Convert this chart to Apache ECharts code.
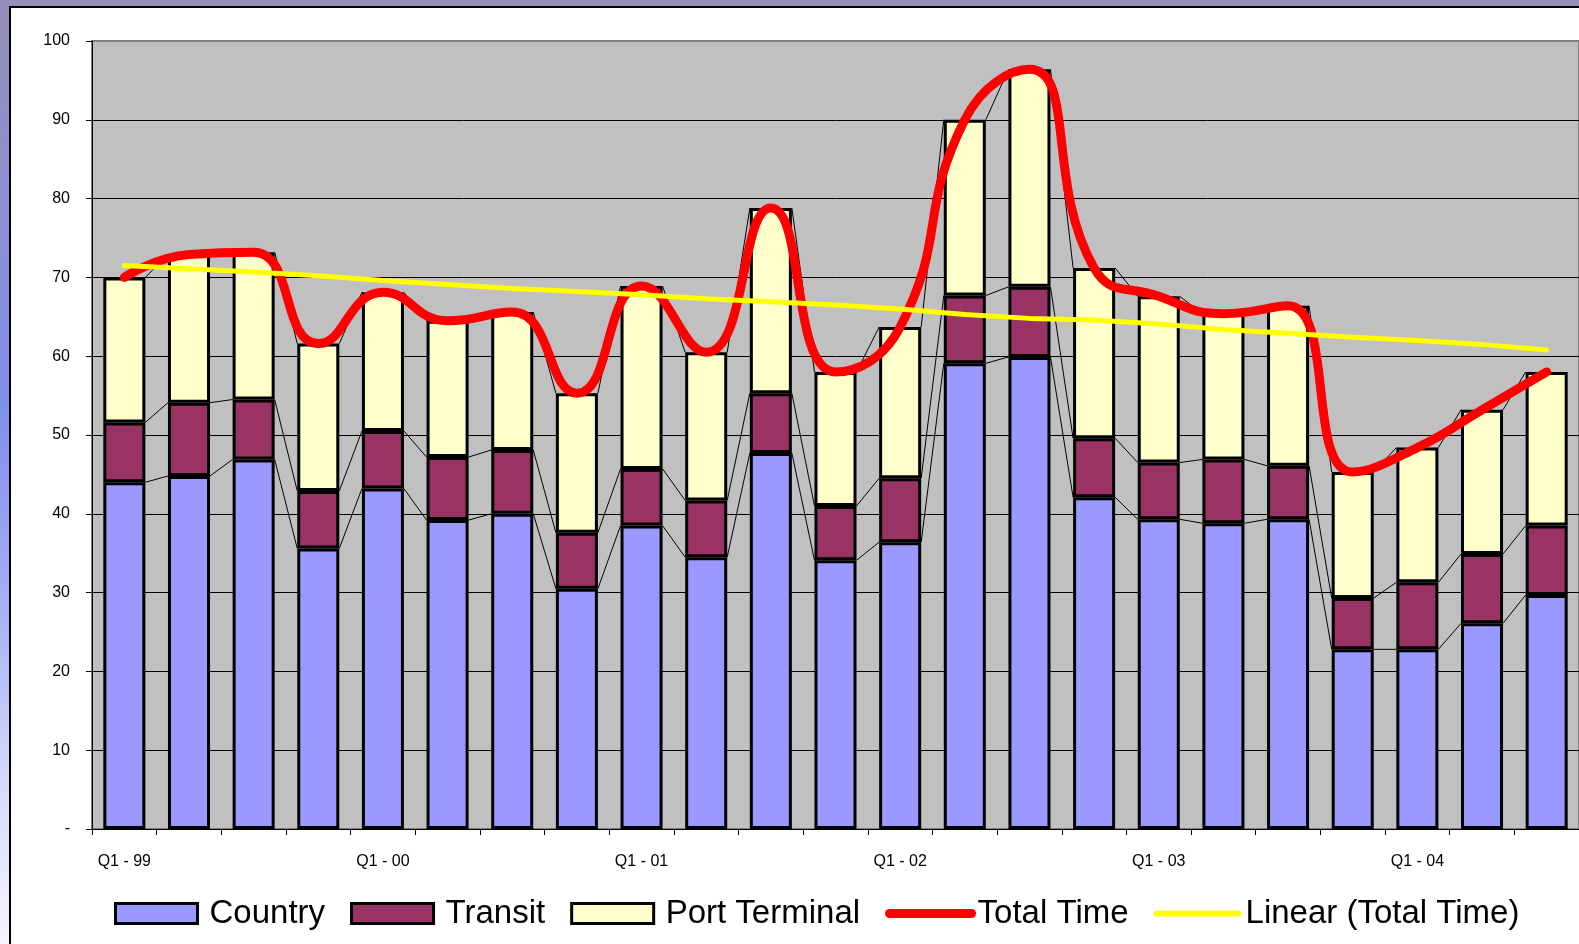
<!DOCTYPE html>
<html>
<head>
<meta charset="utf-8">
<title>Total Time</title>
<script src="https://cdn.jsdelivr.net/npm/echarts@6/dist/echarts.min.js"></script>
<style>
html, body {
  margin: 0;
  padding: 0;
  width: 1579px;
  height: 944px;
  overflow: hidden;
  background: linear-gradient(to bottom, #938fb9 0%, #8c8fd2 22%, #7f8eea 42%, #a0acf6 62%, #d2d8fb 82%, #f6f6ff 100%);
}
.panel {
  position: absolute;
  left: 9px;
  top: 6px;
  width: 1600px;
  height: 1000px;
  background: #ffffff;
  border: 2px solid #000000;
}
#chart {
  position: absolute;
  left: 0;
  top: 0;
  width: 1579px;
  height: 944px;
}
</style>
</head>
<body>
<div class="panel"></div>
<div id="chart"></div>
<script>
// quarters Q1-99 .. Q3-04
var categories = [
  'Q1 - 99', 'Q2 - 99', 'Q3 - 99', 'Q4 - 99',
  'Q1 - 00', 'Q2 - 00', 'Q3 - 00', 'Q4 - 00',
  'Q1 - 01', 'Q2 - 01', 'Q3 - 01', 'Q4 - 01',
  'Q1 - 02', 'Q2 - 02', 'Q3 - 02', 'Q4 - 02',
  'Q1 - 03', 'Q2 - 03', 'Q3 - 03', 'Q4 - 03',
  'Q1 - 04', 'Q2 - 04', 'Q3 - 04'
]
var country = [44.0, 44.8, 46.9, 35.6, 43.2, 39.2, 40.0, 30.5, 38.5, 34.5, 47.7, 34.1,
  36.4, 59.1, 59.9, 42.1, 39.3, 38.8, 39.3, 22.8, 22.8, 26.1, 29.7]
var transit = [7.6, 9.3, 7.6, 7.3, 7.3, 8.0, 8.1, 7.1, 7.2, 7.2, 7.6, 6.9,
  8.1, 8.6, 8.9, 7.5, 7.2, 8.1, 6.8, 6.5, 8.5, 8.8, 8.8]
var portTerminal = [18.4, 18.8, 18.7, 18.7, 17.6, 17.3, 17.5, 17.7, 23.2, 18.8, 23.5, 17.0,
  19.2, 22.3, 27.6, 21.6, 21.1, 18.5, 20.3, 16.0, 17.1, 18.3, 19.5]
var totalTime = [70.0, 72.9, 73.2, 61.6, 68.1, 64.5, 65.6, 55.3, 68.9, 60.5, 78.8, 58.0,
  63.7, 90.0, 96.4, 71.2, 67.6, 65.4, 66.4, 45.3, 48.4, 53.2, 58.0]
var linearTotal = [71.5, 71.1, 70.7, 70.2, 69.6, 69.1, 68.6, 68.2, 67.8, 67.3, 66.9, 66.5,
  66.0, 65.3, 64.8, 64.6, 64.1, 63.4, 62.9, 62.4, 62.0, 61.5, 60.8]
var yTicks = ['-', '10', '20', '30', '40', '50', '60', '70', '80', '90', '100']

var barBorder = { borderColor: '#000000', borderWidth: 3 }
var barWidthPct = 0.65

var myChart = echarts.init(document.getElementById('chart'))

var option = {
  animation: false,
  backgroundColor: 'transparent',
  textStyle: { fontFamily: 'Liberation Sans, Arial, sans-serif' },
  grid: {
    left: 92,
    top: 41,
    width: 1490,
    height: 788,
    show: true,
    backgroundColor: '#c0c0c0',
    borderColor: '#808080',
    borderWidth: 2
  },
  legend: {
    left: 109,
    top: 892,
    itemWidth: 82,
    itemHeight: 20,
    itemGap: 25,
    lineStyle: { width: 'inherit', cap: 'round' },
    data: [
      { name: 'Country', icon: 'rect', itemStyle: { borderWidth: 3, borderColor: '#000000' } },
      { name: 'Transit', icon: 'rect', itemStyle: { borderWidth: 3, borderColor: '#000000' } },
      { name: 'Port Terminal', icon: 'rect', itemStyle: { borderWidth: 3, borderColor: '#000000' } },
      {
        name: 'Total Time',
        itemStyle: { opacity: 0 },
        lineStyle: { width: 9, cap: 'round' },
        textStyle: { padding: [0, 0, 0, 1] }
      },
      {
        name: 'Linear (Total Time)',
        itemStyle: { opacity: 0 },
        lineStyle: { width: 6, cap: 'round' },
        textStyle: { padding: [0, 0, 0, 2] }
      }
    ],
    textStyle: {
      fontSize: 33,
      color: '#000000',
      padding: [0, 0, 0, 7],
      fontFamily: 'Liberation Sans, Arial, sans-serif'
    }
  },
  xAxis: {
    type: 'category',
    data: categories,
    boundaryGap: true,
    axisLine: { lineStyle: { color: '#000000', width: 1 } },
    axisTick: { show: true, length: 6, interval: 0, lineStyle: { color: '#000000' } },
    axisLabel: { interval: 3, margin: 25, fontSize: 16, color: '#000000' },
    splitLine: { show: false }
  },
  yAxis: {
    type: 'value',
    min: 0,
    max: 100,
    interval: 10,
    axisLine: { show: true, lineStyle: { color: '#000000', width: 1 } },
    axisTick: { show: true, length: 6, lineStyle: { color: '#000000' } },
    axisLabel: {
      margin: 22,
      fontSize: 16,
      color: '#000000',
      formatter: function (v) { return yTicks[Math.round(v / 10)] }
    },
    splitLine: {
      show: true,
      lineStyle: {
        color: ['#000000', '#000000', '#000000', '#000000', '#000000', '#000000',
          '#000000', '#000000', '#000000', '#000000', '#808080'],
        width: 1
      }
    }
  },
  series: [
    {
      name: 'Country',
      type: 'bar',
      stack: 'time',
      barWidth: (barWidthPct * 100) + '%',
      data: country,
      itemStyle: Object.assign({ color: '#9999ff' }, barBorder),
      z: 3
    },
    {
      name: 'Transit',
      type: 'bar',
      stack: 'time',
      data: transit,
      itemStyle: Object.assign({ color: '#993366' }, barBorder),
      z: 3
    },
    {
      name: 'Port Terminal',
      type: 'bar',
      stack: 'time',
      data: portTerminal,
      itemStyle: Object.assign({ color: '#ffffcc' }, barBorder),
      z: 3
    },
    {
      // thin series lines joining the stack levels of neighbouring bars
      name: 'seriesLines',
      type: 'custom',
      data: categories.map(function (c, i) { return [i, totalTime[i]] }),
      encode: { x: 0, y: 1 },
      z: 2,
      silent: true,
      renderItem: function (params, api) {
        var i = api.value(0)
        if (i >= categories.length - 1) return
        var half = api.size([1, 0])[0] * barWidthPct / 2
        var lvA = [country[i], country[i] + transit[i], country[i] + transit[i] + portTerminal[i]]
        var lvB = [country[i + 1], country[i + 1] + transit[i + 1],
          country[i + 1] + transit[i + 1] + portTerminal[i + 1]]
        var children = lvA.map(function (a, k) {
          var p1 = api.coord([i, a])
          var p2 = api.coord([i + 1, lvB[k]])
          return {
            type: 'line',
            shape: { x1: p1[0] + half, y1: p1[1], x2: p2[0] - half, y2: p2[1] },
            style: { stroke: '#000000', lineWidth: 1 }
          }
        })
        return { type: 'group', children: children }
      }
    },
    {
      name: 'Total Time',
      type: 'line',
      data: totalTime,
      smooth: 0.5,
      showSymbol: false,
      symbol: 'none',
      itemStyle: { color: '#ff0000' },
      lineStyle: { color: '#ff0000', width: 9, cap: 'round', join: 'round' },
      z: 5
    },
    {
      name: 'Linear (Total Time)',
      type: 'line',
      data: linearTotal,
      showSymbol: false,
      symbol: 'none',
      itemStyle: { color: '#ffff00' },
      lineStyle: { color: '#ffff00', width: 5, cap: 'round' },
      z: 6
    }
  ]
}

myChart.setOption(option)
</script>
</body>
</html>
